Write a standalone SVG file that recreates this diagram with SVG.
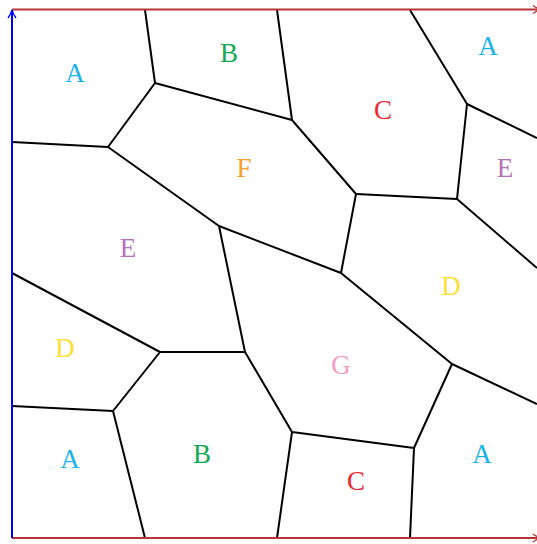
<svg xmlns="http://www.w3.org/2000/svg" width="537" height="544" viewBox="0 0 537 544">
<defs>
<marker id="ahb" viewBox="0 0 10 10" refX="9" refY="5" markerWidth="10" markerHeight="10" orient="auto" markerUnits="userSpaceOnUse">
<path d="M1,1 Q5,4 9,5 Q5,6 1,9" fill="none" stroke="#0000ff" stroke-width="1.3"/>
</marker>
<marker id="ahr" viewBox="0 0 10 10" refX="9" refY="5" markerWidth="10" markerHeight="10" orient="auto" markerUnits="userSpaceOnUse">
<path d="M1,1 Q5,4 9,5 Q5,6 1,9" fill="none" stroke="#b8333a" stroke-width="1.3"/>
</marker>
</defs>
<style>
.e{stroke:#000;stroke-width:2;fill:none;stroke-linejoin:round}
.t{font-family:"Liberation Serif","DejaVu Serif",serif;font-size:27px;text-anchor:middle}
.A{fill:#1cb3ec}.B{fill:#13a854}.C{fill:#f0262e}.D{fill:#fde035}.E{fill:#b472b6}.F{fill:#f8a02a}.G{fill:#f59cc2}
</style>
<rect width="537" height="544" fill="#fff"/>
<g id="connectors">
<path class="e" d="M145,10 L155,83 L108,147 L12,142"/>
<path class="e" d="M155,83 L292,120 L277,10"/>
<path class="e" d="M108,147 L219,226 L341,273 L356,194 L292,120"/>
<path class="e" d="M356,194 L457,199 L467,104 L410,10"/>
<path class="e" d="M467,104 L537,138"/>
<path class="e" d="M457,199 L537,268"/>
<path class="e" d="M219,226 L245,352 L160,352 L12,273"/>
<path class="e" d="M341,273 L452,364 L537,404"/>
<path class="e" d="M452,364 L414,448 L292,432 L245,352"/>
<path class="e" d="M414,448 L410,538"/>
<path class="e" d="M292,432 L277,538"/>
<path class="e" d="M160,352 L113,411 L12,406"/>
<path class="e" d="M113,411 L145,538"/>
<line x1="12" y1="9.5" x2="541" y2="9.5" stroke="#b8333a" stroke-width="2" marker-end="url(#ahr)"/>
<line x1="12" y1="538" x2="541" y2="538" stroke="#b8333a" stroke-width="2" marker-end="url(#ahr)"/>
<line x1="12" y1="538" x2="12" y2="10" stroke="#0000ff" stroke-width="2" marker-end="url(#ahb)"/>
</g>
<g id="n1"><text class="t A" x="75" y="82">A</text></g>
<g id="n2"><text class="t B" x="229" y="62">B</text></g>
<g id="n3"><text class="t C" x="383" y="119">C</text></g>
<g id="n4"><text class="t A" x="488" y="55">A</text></g>
<g id="n5"><text class="t E" x="505" y="177">E</text></g>
<g id="n6"><text class="t F" x="244" y="177">F</text></g>
<g id="n7"><text class="t E" x="128" y="257">E</text></g>
<g id="n8"><text class="t D" x="451" y="295">D</text></g>
<g id="n9"><text class="t D" x="65" y="357">D</text></g>
<g id="n10"><text class="t G" x="341" y="374">G</text></g>
<g id="n11"><text class="t A" x="70" y="468">A</text></g>
<g id="n12"><text class="t B" x="202" y="463">B</text></g>
<g id="n13"><text class="t C" x="356" y="490">C</text></g>
<g id="n14"><text class="t A" x="482" y="463">A</text></g>
</svg>
